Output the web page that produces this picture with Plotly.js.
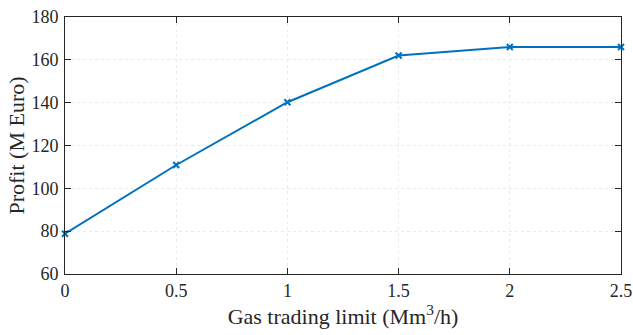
<!DOCTYPE html>
<html><head><meta charset="utf-8">
<script src="https://cdn.plot.ly/plotly-3.0.1.min.js"></script>
<style>html,body{margin:0;padding:0;background:#fff}</style>
</head><body><div id="chart" style="width:633px;height:335px"></div>
<script>
const limits = [0, 0.5, 1, 1.5, 2, 2.5];
const profit = [78.8, 110.9, 140.2, 162, 166, 166];
const xTicks = [0, 0.5, 1, 1.5, 2, 2.5];
const xTickText = ['0', '0.5', '1', '1.5', '2', '2.5'];
const yTicks = [60, 80, 100, 120, 140, 160, 180];

const fam = 'Liberation Serif, Times New Roman, serif';
const font = {family: fam, size: 18, color: '#262626'};
Plotly.newPlot('chart', [{
  x: limits, y: profit, type: 'scatter', mode: 'lines+markers',
  line: {color: '#0072BD', width: 2},
  marker: {symbol: 'x-thin', size: 6, color: '#0072BD', line: {color: '#0072BD', width: 2}},
  cliponaxis: false
}], {
  width: 633, height: 335,
  margin: {l: 65, r: 12, t: 17, b: 61},
  paper_bgcolor: '#fff', plot_bgcolor: '#fff',
  font: font,
  showlegend: false,
  xaxis: {
    range: [0, 2.5], tickvals: xTicks, ticktext: xTickText,
    ticks: 'inside', ticklen: 6, tickcolor: '#262626', tickwidth: 1,
    showline: true, linecolor: '#262626', linewidth: 1, mirror: 'ticks',
    showgrid: true, gridcolor: '#ebebeb', griddash: 'dot', gridwidth: 1,
    zeroline: false, tickfont: font,
    title: {text: 'Gas trading limit (Mm<sup>3</sup>/h)', font: {family: fam, size: 22, color: '#262626'}, standoff: 5}
  },
  yaxis: {
    range: [60, 180], tickvals: yTicks,
    ticks: 'inside', ticklen: 6, tickcolor: '#262626', tickwidth: 1,
    ticklabelstandoff: 2,
    showline: true, linecolor: '#262626', linewidth: 1, mirror: 'ticks',
    showgrid: true, gridcolor: '#ebebeb', griddash: 'dot', gridwidth: 1,
    zeroline: false, tickfont: font,
    title: {text: 'Profit (M Euro)', font: {family: fam, size: 22, color: '#262626'}, standoff: 0}
  }
}, {displayModeBar: false, staticPlot: true});
</script></body></html>
